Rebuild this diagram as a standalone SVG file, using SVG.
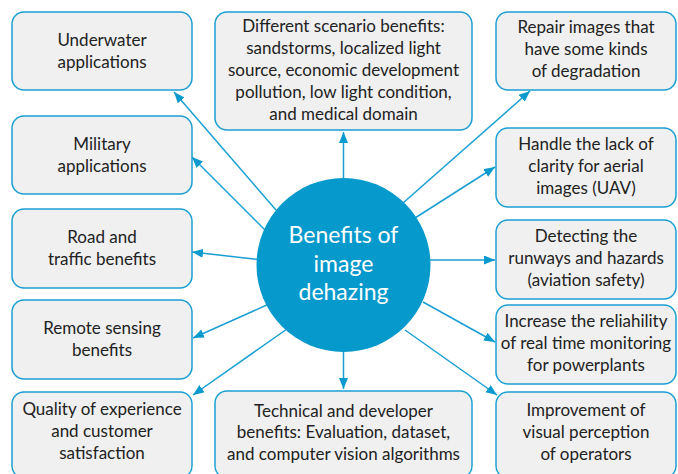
<svg xmlns="http://www.w3.org/2000/svg" width="678" height="474" viewBox="0 0 678 474">
<defs>
<marker id="ah" markerUnits="userSpaceOnUse" markerWidth="12" markerHeight="10" refX="11" refY="4.5" orient="auto">
<path d="M0,0 L11,4.5 L0,9 z" fill="#0a9acd"/>
</marker>
<style>
.box{fill:#f0f0f0;stroke:#1a9fd3;stroke-width:1.5}
.t{font-family:Lato,"Open Sans","DejaVu Sans",sans-serif;font-size:17px;fill:#222;text-anchor:middle}
.c{stroke:#1a9fd3;stroke-width:1.5;fill:none;marker-end:url(#ah)}
.hub{fill:#0599cc}
.ht{font-family:Lato,"Open Sans","DejaVu Sans",sans-serif;font-size:23px;fill:#fff;text-anchor:middle}
</style>
</defs>
<rect width="678" height="474" fill="#fff"/>
<g id="connectors">
<line class="c" x1="276" y1="210" x2="174" y2="92"/>
<line class="c" x1="268" y1="233" x2="192" y2="157"/>
<line class="c" x1="272" y1="261" x2="192" y2="252"/>
<line class="c" x1="278" y1="300" x2="193" y2="338"/>
<line class="c" x1="297" y1="322" x2="193" y2="395"/>
<line class="c" x1="343.5" y1="178" x2="343.5" y2="132"/>
<line class="c" x1="343.5" y1="352" x2="343.5" y2="389"/>
<line class="c" x1="403" y1="203" x2="530" y2="91"/>
<line class="c" x1="415" y1="218" x2="495" y2="167"/>
<line class="c" x1="422" y1="260" x2="495" y2="260"/>
<line class="c" x1="423" y1="302" x2="495" y2="342"/>
<line class="c" x1="405" y1="330" x2="497" y2="395"/>
</g>
<g id="hub">
<circle class="hub" cx="343.5" cy="265" r="87"/>
<text class="ht" x="343.5" y="243">Benefits of</text>
<text class="ht" x="343.5" y="272">image</text>
<text class="ht" x="343.5" y="300">dehazing</text>
</g>
<g id="underwater">
<rect class="box" x="12" y="12" width="180" height="78" rx="12"/>
<text class="t" x="102" y="46">Underwater</text>
<text class="t" x="102" y="68">applications</text>
</g>
<g id="military">
<rect class="box" x="12" y="116" width="180" height="78" rx="12"/>
<text class="t" x="102" y="150">Military</text>
<text class="t" x="102" y="172">applications</text>
</g>
<g id="road">
<rect class="box" x="12" y="209" width="180" height="79" rx="12"/>
<text class="t" x="102" y="243">Road and</text>
<text class="t" x="102" y="265">traffic benefits</text>
</g>
<g id="remote">
<rect class="box" x="12" y="300" width="180" height="79" rx="12"/>
<text class="t" x="102" y="334">Remote sensing</text>
<text class="t" x="102" y="356">benefits</text>
</g>
<g id="quality">
<rect class="box" x="12" y="392" width="180" height="86" rx="12"/>
<text class="t" x="102" y="415">Quality of experience</text>
<text class="t" x="102" y="437">and customer</text>
<text class="t" x="102" y="459">satisfaction</text>
</g>
<g id="scenario">
<rect class="box" x="215" y="12" width="257" height="118" rx="12"/>
<text class="t" x="343.5" y="32">Different scenario benefits:</text>
<text class="t" x="343.5" y="54">sandstorms, localized light</text>
<text class="t" x="343.5" y="76">source, economic development</text>
<text class="t" x="343.5" y="98">pollution, low light condition,</text>
<text class="t" x="343.5" y="120">and medical domain</text>
</g>
<g id="technical">
<rect class="box" x="215" y="391" width="257" height="87" rx="12"/>
<text class="t" x="343.5" y="417">Technical and developer</text>
<text class="t" x="343.5" y="438">benefits: Evaluation, dataset,</text>
<text class="t" x="343.5" y="460">and computer vision algorithms</text>
</g>
<g id="repair">
<rect class="box" x="496" y="12" width="180" height="78" rx="12"/>
<text class="t" x="586" y="33">Repair images that</text>
<text class="t" x="586" y="55">have some kinds</text>
<text class="t" x="586" y="77">of degradation</text>
</g>
<g id="handle">
<rect class="box" x="496" y="128" width="180" height="79" rx="12"/>
<text class="t" x="586" y="150">Handle the lack of</text>
<text class="t" x="586" y="172">clarity for aerial</text>
<text class="t" x="586" y="194">images (UAV)</text>
</g>
<g id="detecting">
<rect class="box" x="496" y="220" width="180" height="79" rx="12"/>
<text class="t" x="586" y="242">Detecting the</text>
<text class="t" x="586" y="264">runways and hazards</text>
<text class="t" x="586" y="286">(aviation safety)</text>
</g>
<g id="increase">
<rect class="box" x="496" y="305" width="180" height="79" rx="12"/>
<text class="t" x="586" y="327">Increase the reliahility</text>
<text class="t" x="586" y="349">of real time monitoring</text>
<text class="t" x="586" y="371">for powerplants</text>
</g>
<g id="improvement">
<rect class="box" x="496" y="392" width="180" height="86" rx="12"/>
<text class="t" x="586" y="416">Improvement of</text>
<text class="t" x="586" y="438">visual perception</text>
<text class="t" x="586" y="460">of operators</text>
</g>
</svg>
